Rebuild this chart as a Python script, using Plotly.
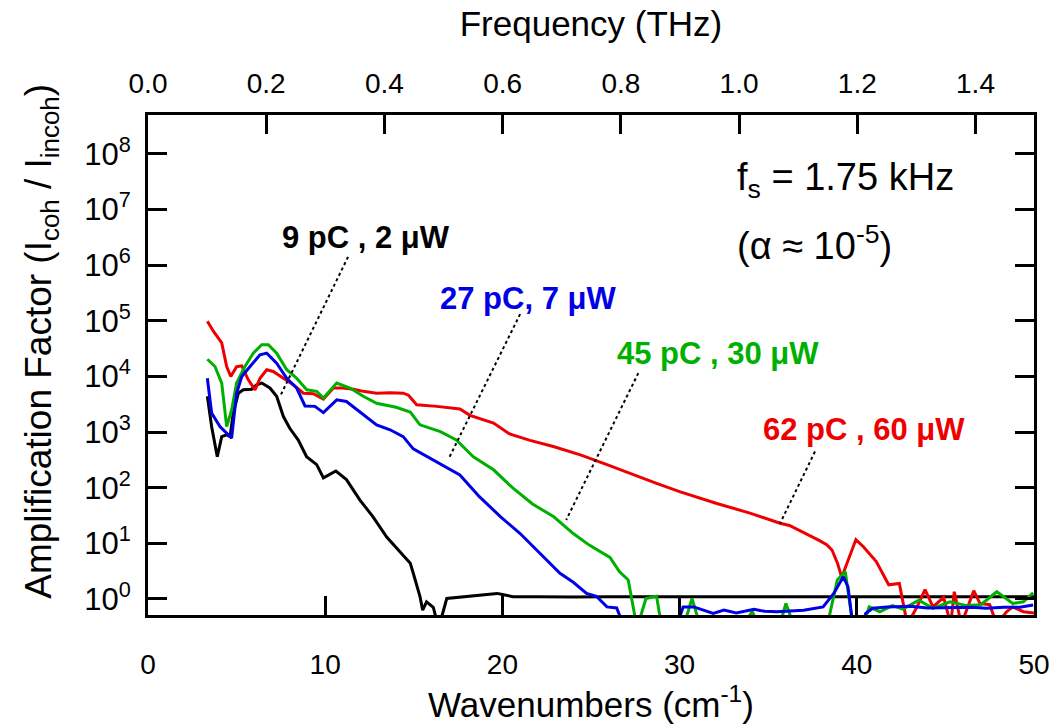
import plotly.graph_objects as go

# ---------------- data ----------------
red_x = [3.35, 3.69, 4.16, 4.44, 4.67, 5.0, 5.29, 5.66, 6.04, 6.32, 6.7, 7.07, 7.64, 8.2, 8.77,
         9.33, 9.9, 10.46, 11.0, 11.6, 12.15, 12.9, 13.66, 14.4, 14.7, 15.16, 16.3, 17.6, 18.17,
         19.5, 20.4, 21.56, 22.87, 24.4, 25.9, 27.4, 28.7, 30.0, 32.1, 33.97, 35.67, 36.2, 37.36,
         37.9, 38.3, 38.6, 38.9, 39.15, 39.95, 40.37, 41.1, 41.8, 42.4, 42.85, 43.4, 43.85, 44.3,
         44.9, 45.3, 45.5, 45.9, 46.6, 46.95, 47.5, 47.9, 48.45, 48.8, 49.4, 50.0]
red_y = [98000, 65000, 40000, 15000, 10000, 15000, 15500, 8700, 5750, 9300, 13200, 12300, 9300, 7100, 5000,
         4900, 3900, 6200, 6200, 5900, 5400, 5000, 5100, 5000, 4600, 3100, 2900, 2600, 2000,
         1450, 930, 710, 550, 390, 260, 170, 120, 85, 52, 35, 23, 21, 14,
         11.2, 9.5, 7.6, 4.5, 2.45, 11.7, 8.7, 4.7, 1.8, 1.9, 0.35, 0.72, 1.48, 0.72,
         1.07, 0.35, 1.35, 0.35, 1.41, 0.83, 0.79, 0.35, 0.59, 0.72, 0.59, 0.56]

green_x = [3.35, 3.78, 4.16, 4.44, 4.72, 5.0, 5.47, 5.94, 6.42, 6.79, 7.26, 7.83, 8.39, 8.96, 9.52,
           9.9, 10.65, 11.4, 12.15, 12.9, 14.0, 14.8, 15.35, 16.5, 17.4, 18.36, 19.5, 20.6, 21.7,
           22.9, 24.0, 24.9, 26.07, 26.6, 27.1, 27.6, 28.1, 28.7, 29.0, 30.2, 30.7, 31.2, 33.5,
           34.1, 34.5, 35.6, 36.0, 36.5, 38.3, 38.9, 39.35, 39.8, 40.3, 40.7, 41.3, 42.0, 42.6,
           43.5, 44.3, 45.26, 46.2, 47.0, 47.9, 48.8, 49.4, 49.95]
green_y = [20400, 15100, 7600, 1260, 2500, 7600, 15100, 26300, 37200, 37200, 26300, 13200, 9300, 5750, 5400,
           4100, 7600, 6200, 4400, 3300, 2800, 2300, 1350, 1020, 720, 360, 210, 98, 51,
           30, 15, 9.3, 5.6, 3.1, 2.2, 0.3, 1.02, 1.12, 0.3, 0.3, 1.02, 0.3, 0.3,
           0.6, 0.3, 0.3, 0.83, 0.3, 0.3, 2.2, 3.1, 0.3, 0.3, 0.72, 0.59, 0.76, 0.66,
           0.95, 0.68, 0.89, 0.76, 0.79, 1.35, 0.83, 0.89, 1.29]

blue_x = [3.35, 3.59, 4.06, 4.44, 4.72, 5.0, 5.29, 5.76, 6.32, 6.7, 7.26, 7.83, 8.39, 8.86, 9.42,
          9.9, 10.65, 11.2, 11.96, 12.9, 13.66, 14.4, 14.97, 15.9, 17.6, 18.7, 19.9, 21.0, 22.1,
          23.25, 24.0, 24.75, 25.3, 25.9, 26.45, 26.9, 27.6, 28.5, 29.8, 30.2, 30.8, 31.4, 31.9,
          32.5, 33.2, 34.2, 34.8, 35.5, 36.3, 37.0, 38.1, 38.7, 39.24, 39.5, 39.8, 40.3, 40.5,
          40.9, 41.7, 43.0, 44.0, 45.45, 46.5, 47.3, 48.3, 49.2, 49.95]
blue_y = [9300, 2200, 1260, 950, 780, 5000, 10000, 15100, 24500, 26300, 17400, 9300, 6200, 2950, 2900,
          2240, 3800, 3550, 2340, 1350, 1100, 830, 500, 340, 170, 69, 30, 15, 6.6,
          2.9, 2.0, 1.26, 1.12, 0.72, 0.69, 0.3, 0.45, 0.3, 0.3, 0.72, 0.72, 0.63, 0.55,
          0.63, 0.56, 0.65, 0.6, 0.59, 0.62, 0.63, 0.72, 1.26, 2.5, 1.66, 0.3, 0.3, 0.55,
          0.68, 0.72, 0.74, 0.69, 0.71, 0.71, 0.68, 0.71, 0.71, 0.78]

black_x = [3.35, 3.59, 3.91, 4.16, 4.44, 4.63, 4.81, 5.1, 5.38, 5.85, 6.13, 6.42, 6.88, 7.26, 7.64,
           8.0, 8.48, 8.95, 9.52, 9.9, 10.6, 11.2, 11.96, 12.7, 13.47, 14.2, 14.8, 14.97, 15.35,
           15.5, 15.72, 16.1, 16.4, 16.86, 17.6, 18.7, 19.7, 20.0, 20.6, 22.0, 24.0, 26.0, 28.0,
           30.0, 32.0, 35.0, 38.0, 40.0, 44.0, 47.0, 50.0]
black_y = [4400, 1260, 360, 830, 890, 830, 2200, 5000, 5750, 5900, 7100, 7600, 6200, 4400, 1900,
           1170, 720, 360, 260, 150, 200, 140, 60, 30, 13, 7.2, 4.4, 2.9, 1.1,
           0.63, 0.89, 0.71, 0.3, 1.02, 1.07, 1.17, 1.26, 1.2, 1.1, 1.1, 1.08, 1.1, 1.1,
           1.08, 1.1, 1.08, 1.1, 1.08, 1.1, 1.1, 1.1]

series_names = ["9 pC , 2 μW", "27 pC, 7 μW", "45 pC , 30 μW", "62 pC , 60 μW"]
series_colors = ["#000000", "#0000e6", "#00b000", "#ee0000"]

freq_ticks = [0.0, 0.2, 0.4, 0.6, 0.8, 1.0, 1.2, 1.4]
x_ticks = [0, 10, 20, 30, 40, 50]
y_exponents = [0, 1, 2, 3, 4, 5, 6, 7, 8]
CM_PER_THZ = 33.356

FONT = "Liberation Sans, Arial, sans-serif"

fig = go.Figure()

for xs, ys, col, nm in [(black_x, black_y, series_colors[0], series_names[0]),
                        (red_x, red_y, series_colors[3], series_names[3]),
                        (green_x, green_y, series_colors[2], series_names[2]),
                        (blue_x, blue_y, series_colors[1], series_names[1])]:
    fig.add_trace(go.Scatter(x=xs, y=ys, mode="lines", name=nm,
                             line=dict(color=col, width=3), showlegend=False))

# dotted leader lines (label -> curve), in data coordinates
leaders = [
    ([11.29, 7.45], [10**6.15, 10**3.64]),
    ([21.0, 16.95], [10**5.12, 10**2.51]),
    ([27.67, 23.6], [10**4.06, 10**1.42]),
    ([37.64, 35.67], [10**2.65, 10**1.36]),
]
for lx, ly in leaders:
    fig.add_trace(go.Scatter(x=lx, y=ly, mode="lines", showlegend=False,
                             line=dict(color="#000000", width=2, dash="dot"), hoverinfo="skip"))

# invisible trace to hold the top (frequency) axis
fig.add_trace(go.Scatter(x=[0, 1.49], y=[1, 1], xaxis="x2", mode="lines",
                         line=dict(width=0), opacity=0, showlegend=False, hoverinfo="skip"))

tickfont = dict(family=FONT, size=28, color="#000")
ytickfont = dict(family=FONT, size=31, color="#000")
titlefont = dict(family=FONT, size=35, color="#000")

fig.update_layout(
    width=1052, height=728,
    margin=dict(l=148, r=18, t=115, b=113, autoexpand=False),
    paper_bgcolor="white", plot_bgcolor="white",
    font=dict(family=FONT, color="#000"),
    xaxis=dict(range=[0, 50], tickvals=x_ticks, ticks="inside", ticklen=19, tickwidth=3,
               tickcolor="#000", showline=True, linecolor="#000", linewidth=3, mirror=False,
               showgrid=False, zeroline=False, tickfont=tickfont, ticklabelstandoff=22,
               automargin=False,
               title=dict(text="Wavenumbers (cm<sup>-1</sup>)", font=titlefont, standoff=14)),
    xaxis2=dict(overlaying="x", side="top", range=[0, 50 / CM_PER_THZ], tickvals=freq_ticks,
                ticktext=[f"{v:.1f}" for v in freq_ticks], ticks="inside", ticklen=19, tickwidth=3,
                tickcolor="#000", showline=True, linecolor="#000", linewidth=3,
                showgrid=False, zeroline=False, tickfont=tickfont, ticklabelstandoff=8,
                automargin=False,
                title=dict(text="Frequency (THz)", font=titlefont, standoff=21)),
    yaxis=dict(type="log", range=[-0.288, 8.70], tickvals=[10**e for e in y_exponents],
               ticktext=[f"10<sup>{e}</sup>" for e in y_exponents], ticks="inside", ticklen=19,
               tickwidth=3, tickcolor="#000", showline=True, linecolor="#000", linewidth=3,
               mirror="ticks", showgrid=False, zeroline=False, tickfont=ytickfont,
               ticklabelstandoff=8, automargin=False),
)

# y-axis title as a rotated annotation (placed slightly above the plot centre, as in the reference)
fig.add_annotation(x=-0.121, y=0.548, xref="paper", yref="paper", xanchor="center", yanchor="middle",
                   textangle=-90, showarrow=False,
                   text="Amplification Factor (I<sub>coh</sub> / I<sub>incoh</sub>)",
                   font=dict(family=FONT, size=37, color="#000"))

labels = [
    (series_names[0], series_colors[0], 12.3, 6.49),
    (series_names[1], series_colors[1], 21.44, 5.41),
    (series_names[2], series_colors[2], 32.17, 4.42),
    (series_names[3], series_colors[3], 40.4, 3.04),
]
for txt, col, lx, ly in labels:
    fig.add_annotation(x=lx, y=ly, xref="x", yref="y", text=f"<b>{txt}</b>", showarrow=False,
                       font=dict(family=FONT, size=31, color=col), xanchor="center", yanchor="middle")

fig.add_annotation(x=0.6625, y=0.87, xref="paper", yref="paper", xanchor="left", yanchor="middle",
                   text="f<sub>s</sub> = 1.75 kHz", showarrow=False,
                   font=dict(family=FONT, size=38, color="#000"))
fig.add_annotation(x=0.6625, y=0.744, xref="paper", yref="paper", xanchor="left", yanchor="middle",
                   text="(α ≈ 10<sup>-5</sup>)", showarrow=False,
                   font=dict(family=FONT, size=38, color="#000"))

fig.write_html("out.html")
